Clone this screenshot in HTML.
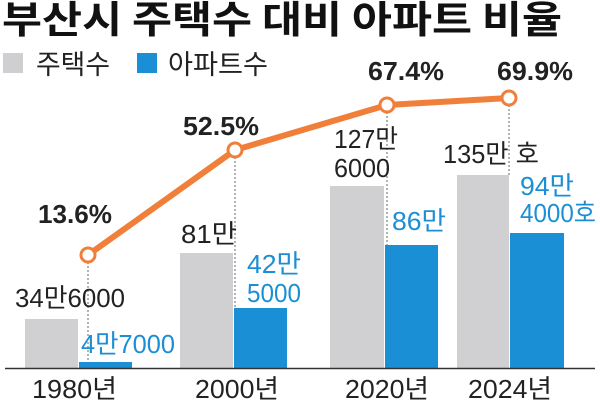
<!DOCTYPE html>
<html><head><meta charset="utf-8"><style>
html,body{margin:0;padding:0;background:#fff;width:600px;height:402px;overflow:hidden}
text{font-family:"Liberation Sans","Noto Sans CJK KR",sans-serif}
</style></head><body>
<svg width="600" height="402" viewBox="0 0 600 402" xmlns="http://www.w3.org/2000/svg">
<text x="2" y="33" font-size="38" font-weight="bold" fill="#111" textLength="560" lengthAdjust="spacingAndGlyphs" style="font-family:'Noto Sans CJK KR',sans-serif">부산시 주택수 대비 아파트 비율</text>
<rect x="3" y="53" width="20" height="20" fill="#cfcfd1"/>
<text x="36" y="74" font-size="27" fill="#222" textLength="74" lengthAdjust="spacingAndGlyphs" style="font-family:'Noto Sans CJK KR',sans-serif">주택수</text>
<rect x="137" y="53" width="20" height="20" fill="#1b8fd6"/>
<text x="168" y="74" font-size="27" fill="#222" textLength="100" lengthAdjust="spacingAndGlyphs" style="font-family:'Noto Sans CJK KR',sans-serif">아파트수</text>
<g fill="#d0d0d2">
<rect x="25" y="319" width="53" height="49"/>
<rect x="180" y="253" width="53" height="115"/>
<rect x="330" y="186" width="54" height="182"/>
<rect x="457" y="175" width="52" height="193"/>
</g>
<g fill="#1b8fd6">
<rect x="79" y="362" width="53" height="6"/>
<rect x="234" y="308" width="53" height="60"/>
<rect x="385" y="245" width="53" height="123"/>
<rect x="510" y="233" width="54" height="135"/>
</g>
<line x1="5" y1="368.5" x2="595" y2="368.5" stroke="#333" stroke-width="1.5"/>
<g stroke="#666" stroke-width="1" stroke-dasharray="2,2">
<line x1="88" y1="262" x2="88" y2="362"/>
<line x1="235" y1="157" x2="235" y2="308"/>
<line x1="387" y1="112" x2="387" y2="245"/>
<line x1="509" y1="105" x2="509" y2="175"/>
</g>
<polyline points="88,255 235,150 387,105 509,98" fill="none" stroke="#f07f3a" stroke-width="6" stroke-linejoin="round"/>
<g fill="#fff" stroke="#f07f3a" stroke-width="3">
<circle cx="88" cy="255" r="7"/><circle cx="235" cy="150" r="7"/><circle cx="387" cy="105" r="7"/><circle cx="509" cy="98" r="7"/>
</g>
<g font-size="26" font-weight="bold" fill="#222">
<text x="38" y="223" textLength="74" lengthAdjust="spacingAndGlyphs">13.6%</text>
<text x="183" y="135" textLength="76" lengthAdjust="spacingAndGlyphs">52.5%</text>
<text x="368" y="80" textLength="76" lengthAdjust="spacingAndGlyphs">67.4%</text>
<text x="497" y="80" textLength="76" lengthAdjust="spacingAndGlyphs">69.9%</text>
</g>
<g font-size="26" fill="#222">
<text x="15" y="307" textLength="110" lengthAdjust="spacingAndGlyphs">34만6000</text>
<text x="181" y="243" textLength="56" lengthAdjust="spacingAndGlyphs">81만</text>
<text x="334" y="148" textLength="64" lengthAdjust="spacingAndGlyphs">127만</text>
<text x="334" y="177" textLength="56" lengthAdjust="spacingAndGlyphs">6000</text>
<text x="443" y="163" textLength="96" lengthAdjust="spacingAndGlyphs">135만 호</text>
<text x="32" y="398" textLength="85" lengthAdjust="spacingAndGlyphs">1980년</text>
<text x="195" y="398" textLength="84" lengthAdjust="spacingAndGlyphs">2000년</text>
<text x="345" y="398" textLength="84" lengthAdjust="spacingAndGlyphs">2020년</text>
<text x="468" y="398" textLength="84" lengthAdjust="spacingAndGlyphs">2024년</text>
</g>
<g font-size="26" fill="#1b8fd6">
<text x="81" y="353" textLength="94" lengthAdjust="spacingAndGlyphs">4만7000</text>
<text x="247" y="273" textLength="54" lengthAdjust="spacingAndGlyphs">42만</text>
<text x="247" y="302" textLength="54" lengthAdjust="spacingAndGlyphs">5000</text>
<text x="392" y="230" textLength="54" lengthAdjust="spacingAndGlyphs">86만</text>
<text x="520" y="195" textLength="54" lengthAdjust="spacingAndGlyphs">94만</text>
<text x="520" y="222" textLength="76" lengthAdjust="spacingAndGlyphs">4000호</text>
</g>
</svg>
</body></html>
